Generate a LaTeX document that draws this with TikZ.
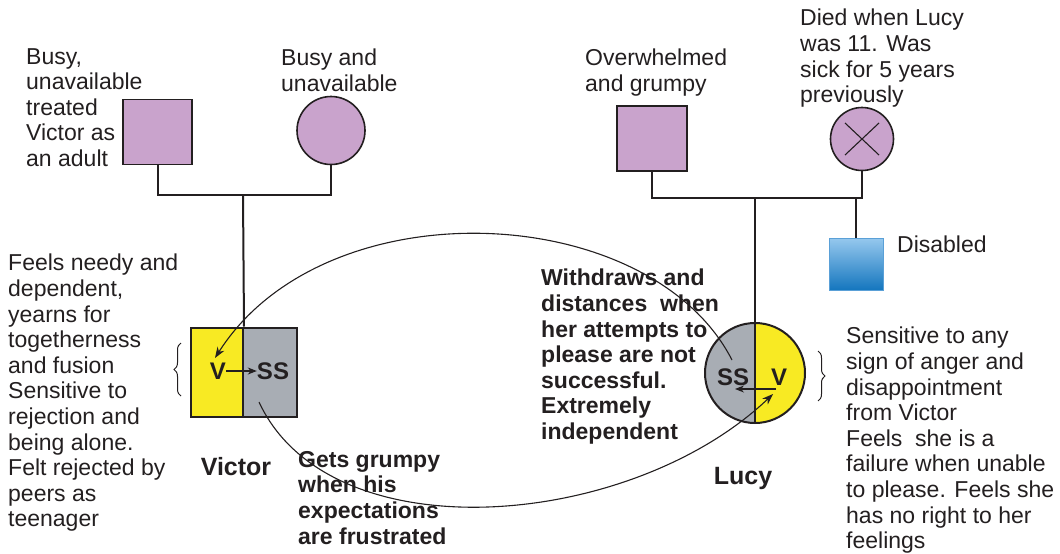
\documentclass[tikz,border=0pt]{standalone}
\usepackage{fontspec}
\setmainfont{Liberation Sans}
\usetikzlibrary{arrows.meta,decorations.pathreplacing}
\definecolor{ink}{RGB}{35,31,32}
\definecolor{lilac}{RGB}{201,163,204}
\definecolor{vyel}{RGB}{248,234,35}
\definecolor{vgrey}{RGB}{168,173,180}
\definecolor{btop}{RGB}{150,200,238}
\definecolor{bbot}{RGB}{20,118,190}
\definecolor{bedge}{RGB}{90,160,215}
\tikzset{
  txt/.style={font=\fontsize{23}{25.6}\selectfont, align=left, anchor=north west, inner sep=0pt, text=ink},
  btxt/.style={txt, font=\fontsize{23}{25.6}\selectfont\bfseries},
  namelbl/.style={font=\fontsize{25}{28}\selectfont\bfseries, inner sep=0pt, text=ink},
  letter/.style={font=\fontsize{24}{26}\selectfont\bfseries, inner sep=0pt, text=ink},
  person/.style={draw=ink, line width=1.6pt, fill=lilac, inner sep=0pt},
  fam/.style={draw=ink, line width=2pt},
  link/.style={draw=ink, line width=1.1pt},
  tip/.style={-{Stealth[length=11pt,width=8pt]}},
  smalltip/.style={-{Stealth[length=9pt,width=7pt]}},
  brc/.style={draw=ink, line width=1pt, decorate, decoration={brace, amplitude=7pt}}
}
\begin{document}
\begin{tikzpicture}[x=1pt,y=-1pt]
\useasboundingbox (0,0) rectangle (1060,554);

% ---- Victor's family ----
\node[person, minimum width=69pt, minimum height=65pt] (vf) at (157.5,132) {};
\node[person, circle, minimum size=68pt] (vm) at (331,130.5) {};
\coordinate (vj) at (243,195);
\draw[fam] (vf.south) -- (vf.south |- vj) -| (vm.south);

\node[draw=ink, line width=2pt, fill=vyel, minimum width=52pt, minimum height=89pt, inner sep=0pt] (vy) at (217,372) {};
\node[draw=ink, line width=2pt, fill=vgrey, minimum width=54pt, minimum height=89pt, inner sep=0pt] (vg) at (270,372) {};
\draw[fam] (vj) -- (vy.north east);

\node[letter] (vv) at (218,371) {V};
\node[letter] (vss) at (273,371) {SS};
\draw[link, smalltip] (vv.east) -- (vss.west);
\draw[brc] (181,396) -- (181,343);

\node[namelbl] (victor) at (236,467) {Victor};

% ---- Lucy's family ----
\node[person, minimum width=70pt, minimum height=65pt] (lf) at (652,138.5) {};
\node[person, circle, minimum size=63pt] (lm) at (862,139) {};
\draw[ink, line width=1.1pt] ([shift={(-17,-16)}]lm.center) -- ([shift={(17,16)}]lm.center);
\draw[ink, line width=1.1pt] ([shift={(-17,16)}]lm.center) -- ([shift={(17,-16)}]lm.center);
\coordinate (lj) at (755,198);
\coordinate (dj) at (856,198);
\draw[fam] (lf.south) -- (lf.south |- lj) -| (lm.south);

\node[draw=bedge, line width=1pt, top color=btop, bottom color=bbot, minimum width=54pt, minimum height=52pt, inner sep=0pt] (ld) at (856,264) {};
\draw[fam] (dj) -- (ld.north);

\coordinate (lcc) at (755,373);
\begin{scope}
  \clip (lcc) circle[radius=50];
  \fill[vgrey] (700,318) rectangle (755,428);
  \fill[vyel] (755,318) rectangle (810,428);
\end{scope}
\node[draw=ink, line width=2pt, circle, minimum size=100pt, inner sep=0pt] (lc) at (lcc) {};
\draw[fam] (lj) -- (lc.south);

\node[letter] (lss) at (733,377) {SS};
\node[letter] (lv) at (779,377) {V};
\coordinate (lva) at (776,389);
\coordinate (lsa) at (735,389);
\draw[link, smalltip] (lva) -- (lsa);
\draw[brc] (818,351) -- (818,401);

\node[namelbl] (lucy) at (743,478) {Lucy};

% ---- curves between partners ----
\coordinate (us) at (732,360);
\coordinate (ue) at (215,358);
\draw[link, tip] (us) .. controls (650,200) and (325,185) .. (ue);
\coordinate (ls) at (259,402);
\coordinate (le) at (773,394);
\draw[link, tip] (ls) .. controls (330,555) and (630,530) .. (le);

% ---- texts ----
\node[txt] (t1) at (26,48) {Busy,\\unavailable\\treated\\Victor as\\an adult};
\node[txt] (t2) at (281,49) {Busy and\\unavailable};
\node[txt] (t3) at (585,49) {Overwhelmed\\and grumpy};
\node[txt] (t4) at (800,9) {Died when Lucy\\was 11. Was\\sick for 5 years\\previously};
\node[txt] (t5) at (897,236) {Disabled};
\node[txt] (t6) at (8,254) {Feels needy and\\dependent,\\yearns for\\togetherness\\and fusion\\Sensitive to\\rejection and\\being alone.\\Felt rejected by\\peers as\\teenager};
\node[txt] (t7) at (846,327) {Sensitive to any\\sign of anger and\\disappointment\\from Victor\\Feels\ \ she is a\\failure when unable\\to please. Feels she\\has no right to her\\feelings};
\node[btxt] (t8) at (541,269) {Withdraws and\\distances\ \ when\\her attempts to\\please are not\\successful.\\Extremely\\independent};
\node[btxt] (t9) at (298,451) {Gets grumpy\\when his\\expectations\\are frustrated};
\end{tikzpicture}
\end{document}
